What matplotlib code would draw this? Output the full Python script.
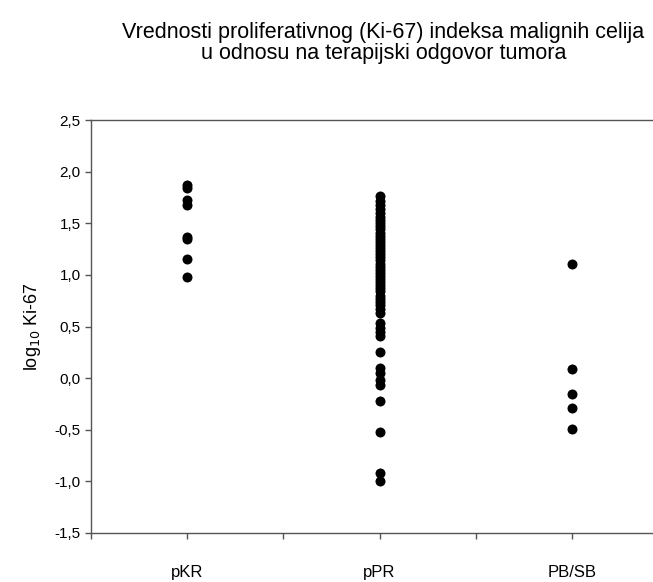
import matplotlib as mpl
mpl.use('Agg')

import matplotlib.pyplot as plt
from matplotlib.ticker import FuncFormatter

plt.rcParams['font.family'] = ['Liberation Sans', 'DejaVu Sans']

# log10 Ki-67 per response group
groups = ['pKR', 'pPR', 'PB/SB']
pkr = [1.87, 1.84, 1.73, 1.68, 1.37, 1.35, 1.15, 0.98]
ppr = [1.76, 1.72, 1.68, 1.64, 1.60, 1.56, 1.53, 1.50, 1.47, 1.44,
       1.41, 1.38, 1.35, 1.32, 1.29, 1.26, 1.23, 1.20, 1.17, 1.14,
       1.11, 1.08, 1.05, 1.02, 0.99, 0.96, 0.93, 0.90, 0.87, 0.84,
       0.80, 0.77, 0.74, 0.71, 0.67, 0.63, 0.53, 0.49, 0.45, 0.41,
       0.25, 0.10, 0.05, -0.02, -0.07, -0.22, -0.52, -0.92, -1.00]
pbsb = [1.11, 0.09, -0.15, -0.29, -0.49]
values = [pkr, ppr, pbsb]

fig = plt.figure(figsize=(6.53, 5.82), dpi=100)
ax = fig.add_axes([0.1394, 0.0842, 0.8836, 0.7096])

for i, vals in enumerate(values):
    ax.plot([i + 1] * len(vals), vals, 'o', color='black',
            markersize=7.2, markeredgewidth=0, clip_on=False)

ax.set_xlim(0.5, 3.5)
ax.set_ylim(-1.5, 2.5)
ax.set_xticks([0.5, 1, 1.5, 2, 2.5, 3])
ax.set_xticklabels(['', groups[0], '', groups[1], '', groups[2]])
ax.set_yticks([-1.5, -1.0, -0.5, 0.0, 0.5, 1.0, 1.5, 2.0, 2.5])
ax.yaxis.set_major_formatter(
    FuncFormatter(lambda v, p: ('%.1f' % v).replace('.', ',')))

ax.spines['right'].set_visible(False)
for s in ['left', 'bottom', 'top']:
    ax.spines[s].set_color('#555555')
    ax.spines[s].set_linewidth(1.0)
ax.tick_params(axis='both', direction='out', length=4, width=1,
               color='#555555', labelsize=11)
ax.tick_params(axis='x', pad=19, labelsize=12)

ax.set_ylabel('log$_{10}$ Ki-67', fontsize=13, labelpad=8)

fig.text(0.587, 0.926,
         'Vrednosti proliferativnog (Ki-67) indeksa malignih celija\n'
         'u odnosu na terapijski odgovor tumora',
         ha='center', va='center', fontsize=15.5, linespacing=1.0)

plt.savefig('out.png', dpi=100)
plt.close()
